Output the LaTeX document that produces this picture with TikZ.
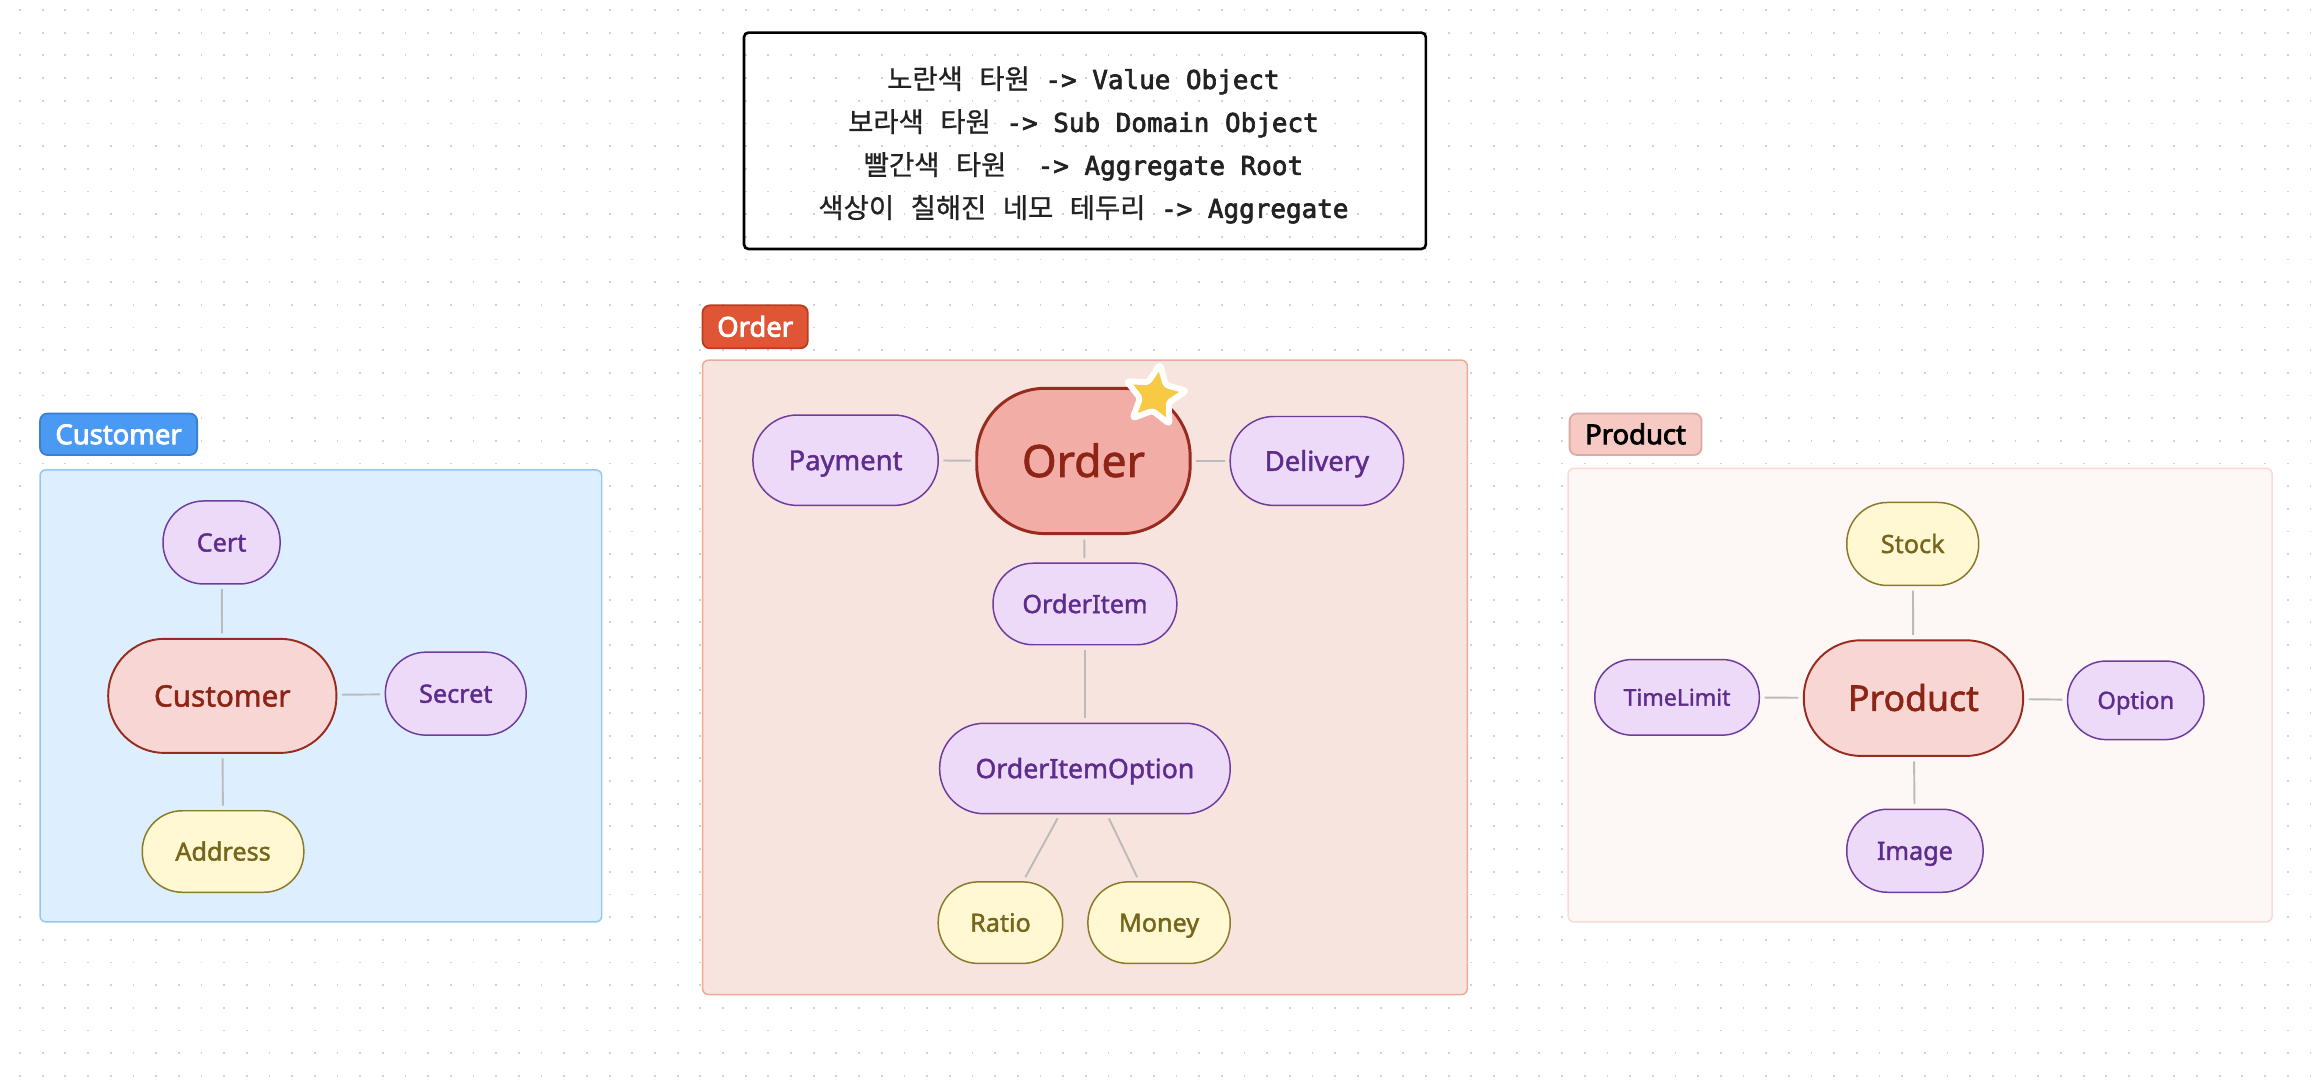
\documentclass[tikz,border=0pt]{standalone}
\usepackage{fontspec}
\setmainfont{Noto Sans}[FakeBold=1.6]
\newfontfamily\labf{Noto Sans}[FakeBold=3]
\newfontfamily\kr{Noto Sans CJK KR}[FakeBold=0.8]
\newfontfamily\mono{DejaVu Sans Mono}[FakeBold=2.5]
\newcommand\ks{{\mono\ }}
\usetikzlibrary{shapes.geometric}
\definecolor{dotcol}{HTML}{D2D2D2}
\definecolor{pfill}{HTML}{ECDAF8}
\definecolor{pdraw}{HTML}{6E3C9E}
\definecolor{ptext}{HTML}{5E2C8C}
\definecolor{yfill}{HTML}{FFF8D2}
\definecolor{ydraw}{HTML}{8A7A2A}
\definecolor{ytext}{HTML}{76661C}
\definecolor{rfill}{HTML}{F8D6D4}
\definecolor{rfillB}{HTML}{F2AEA6}
\definecolor{rdraw}{HTML}{982A1E}
\definecolor{rtext}{HTML}{8E2416}
\definecolor{conncol}{HTML}{BBBBBB}
\definecolor{custfill}{HTML}{DDEFFE}
\definecolor{custdraw}{HTML}{90C8F8}
\definecolor{custlab}{HTML}{4A99F2}
\definecolor{custlabd}{HTML}{3A7FD0}
\definecolor{ordfill}{HTML}{F8E4DE}
\definecolor{orddraw}{HTML}{F0A898}
\definecolor{ordlab}{HTML}{E05535}
\definecolor{ordlabd}{HTML}{B8401F}
\definecolor{prodfill}{HTML}{FDF7F5}
\definecolor{proddraw}{HTML}{F9DAD6}
\definecolor{prodlab}{HTML}{F6C9C3}
\definecolor{prodlabd}{HTML}{DCA9A3}
\definecolor{starcol}{HTML}{F8C944}
\definecolor{legtext}{HTML}{222222}
\tikzset{
  fs/.code={\pgfmathsetmacro\fsh{0.72*#1}\tikzset{font=\fontsize{#1}{#1}\selectfont, text height=\fsh pt, text depth=0pt}},
  basen/.style={draw, line width=1pt, inner sep=0pt, align=center},
  purp/.style={basen, fill=pfill, draw=pdraw, text=ptext, fs=17},
  yel/.style={basen, fill=yfill, draw=ydraw, text=ytext, fs=17},
  rootn/.style={basen, fill=rfill, draw=rdraw, text=rtext, line width=1.3pt},
  conn/.style={draw=conncol, line width=1.3pt, shorten <=3pt, shorten >=3pt},
  grp/.style={line width=1pt, rounded corners=4pt, inner sep=0pt},
  grplab/.style={line width=1.2pt, rounded corners=5pt, inner sep=0pt, fs=18.5},
  legline/.style={anchor=base, inner sep=0pt, text=legtext, font=\fontsize{17.5}{17.5}\selectfont},
}
\begin{document}
\begin{tikzpicture}[x=1pt,y=-1pt]
\useasboundingbox (0,0) rectangle (1568,731.4);
\fill[white] (0,0) rectangle (1568,731.4);
% dot grid
\foreach \k in {0,...,47}{
  \draw[dotcol, line width=1.2pt, dash pattern=on 1.2pt off 14.1pt] (12.9,6.75+15.3*\k) -- (1568,6.75+15.3*\k);
}
% legend
\node[draw=black, line width=1.8pt, rounded corners=3pt, minimum width=460pt, minimum height=146pt, inner sep=0pt] (legend) at (732,95) {};
\node[legline] (leg1) at (731,60) {{\kr\fontsize{18.5}{18.5}\selectfont 노란색\ks 타원}{\mono\ -> Value Object}};
\node[legline] (leg2) at (731,89) {{\kr\fontsize{18.5}{18.5}\selectfont 보라색\ks 타원}{\mono\ -> Sub Domain Object}};
\node[legline] (leg3) at (731,118) {{\kr\fontsize{18.5}{18.5}\selectfont 빨간색\ks 타원}{\mono\ \ -> Aggregate Root}};
\node[legline] (leg4) at (731,147) {{\kr\fontsize{18.5}{18.5}\selectfont 색상이\ks 칠해진\ks 네모\ks 테두리}{\mono\ -> Aggregate}};

% ===== Customer group
\node[grp, fill=custfill, draw=custdraw, minimum width=379pt, minimum height=305pt] (custbox) at (216.5,469.5) {};
\node[grplab, fill=custlab, draw=custlabd, text=white, minimum width=106pt, minimum height=28pt] (custlabel) at (80,293) {\labf Customer};
\node[purp, minimum width=79pt, minimum height=56pt, rounded corners=27.5pt] (cert) at (149.5,366) {Cert};
\node[rootn, minimum width=154pt, minimum height=77pt, rounded corners=38pt, fs=20] (cust) at (150,469.5) {Customer};
\node[purp, minimum width=95pt, minimum height=56pt, rounded corners=27.5pt] (secret) at (307.5,468) {Secret};
\node[yel, minimum width=109pt, minimum height=55pt, rounded corners=27pt] (address) at (150.5,574.5) {Address};
\draw[conn] (cert) -- (cust);
\draw[conn] (cust) -- (secret);
\draw[conn] (cust) -- (address);

% ===== Order group
\node[grp, fill=ordfill, draw=orddraw, minimum width=516pt, minimum height=428pt] (ordbox) at (732,457) {};
\node[grplab, fill=ordlab, draw=ordlabd, text=white, minimum width=71pt, minimum height=29pt] (ordlabel) at (509.5,220.5) {\labf Order};
\node[purp, minimum width=125pt, minimum height=61pt, rounded corners=30pt, fs=18.5] (payment) at (570.5,310.5) {Payment};
\node[rootn, fill=rfillB, line width=2pt, minimum width=144pt, minimum height=98pt, rounded corners=46pt, fs=30] (order) at (731,311) {Order};
\node[purp, minimum width=117pt, minimum height=60pt, rounded corners=29.5pt, fs=18.5] (delivery) at (888.5,311) {Delivery};
\node[purp, minimum width=124pt, minimum height=55pt, rounded corners=27pt] (orderitem) at (732,407.5) {OrderItem};
\node[purp, minimum width=196pt, minimum height=61pt, rounded corners=30pt, fs=18] (oio) at (732,518.5) {OrderItemOption};
\node[yel, minimum width=84pt, minimum height=55pt, rounded corners=27pt] (ratio) at (675,622.5) {Ratio};
\node[yel, minimum width=96pt, minimum height=55pt, rounded corners=27pt] (money) at (782,622.5) {Money};
\draw[conn] (payment) -- (order);
\draw[conn] (order) -- (delivery);
\draw[conn] (order) -- (orderitem);
\draw[conn] (orderitem) -- (oio);
\draw[conn] (oio) -- (ratio);
\draw[conn] (oio) -- (money);
\node[star, star points=5, star point ratio=2.1, minimum size=43pt, inner sep=0pt, fill=starcol, draw=white, line width=4pt, rotate=-9, rounded corners=2pt, line join=round] (star) at (779.3,267) {};

% ===== Product group
\node[grp, fill=prodfill, draw=proddraw, minimum width=475pt, minimum height=306pt] (prodbox) at (1295.5,469) {};
\node[grplab, fill=prodlab, draw=prodlabd, text=black, minimum width=89pt, minimum height=28pt] (prodlabel) at (1103.5,293) {\labf Product};
\node[yel, minimum width=89pt, minimum height=56pt, rounded corners=27.5pt] (stock) at (1290.5,367) {Stock};
\node[rootn, minimum width=148pt, minimum height=78pt, rounded corners=38.5pt, fs=24] (product) at (1291,471) {Product};
\node[purp, minimum width=111pt, minimum height=51pt, rounded corners=25pt, fs=15.5] (timelimit) at (1131.5,470.5) {TimeLimit};
\node[purp, minimum width=92pt, minimum height=53pt, rounded corners=26pt, fs=16] (option) at (1441,472.5) {Option};
\node[purp, minimum width=92pt, minimum height=56pt, rounded corners=27.5pt] (image) at (1292,574) {Image};
\draw[conn] (stock) -- (product);
\draw[conn] (timelimit) -- (product);
\draw[conn] (product) -- (option);
\draw[conn] (product) -- (image);
\end{tikzpicture}
\end{document}
